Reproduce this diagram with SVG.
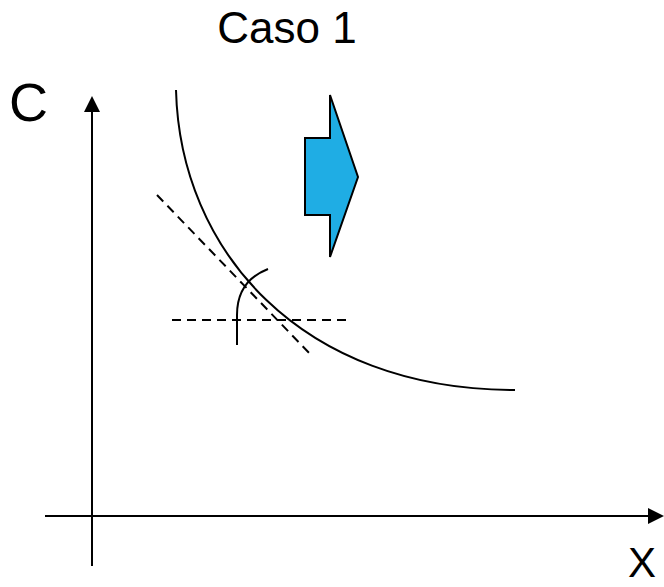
<svg xmlns="http://www.w3.org/2000/svg" width="664" height="587" viewBox="0 0 664 587">
<style>
.t{font-family:"Liberation Sans",Arial,sans-serif;fill:#000}
.ln{fill:none;stroke:#000;stroke-width:2}
.dash{fill:none;stroke:#000;stroke-width:2;stroke-dasharray:9,6}
</style>
<defs>
<marker id="ah" markerWidth="8" markerHeight="8" refX="7" refY="4" orient="auto" markerUnits="strokeWidth">
<path d="M0,0 L8,4 L0,8 Z" fill="#000"/>
</marker>
</defs>
<rect width="664" height="587" fill="#fff"/>
<text class="t" x="287" y="43" font-size="44" text-anchor="middle">Caso 1</text>
<g id="axes">
<line class="ln" x1="92" y1="566" x2="92" y2="98" marker-end="url(#ah)"/>
<line class="ln" x1="45" y1="516" x2="662" y2="516" marker-end="url(#ah)"/>
</g>
<text class="t" x="9" y="121" font-size="54">C</text>
<text class="t" x="628" y="577" font-size="42">X</text>
<g id="curve">
<path class="ln" d="M176,90 C180,250 300,390 515,390"/>
</g>
<g id="tangent">
<line class="dash" x1="157" y1="195" x2="313" y2="357"/>
<line class="dash" x1="172" y1="320" x2="348" y2="320"/>
<path class="ln" d="M237,345 L237,315 C237,290 250,276 268,269"/>
</g>
<g id="arrow">
<path d="M305,138 L330,138 L330,95 L358,177 L330,257 L330,215 L305,215 Z" fill="#1fade4" stroke="#000" stroke-width="2"/>
</g>
</svg>
